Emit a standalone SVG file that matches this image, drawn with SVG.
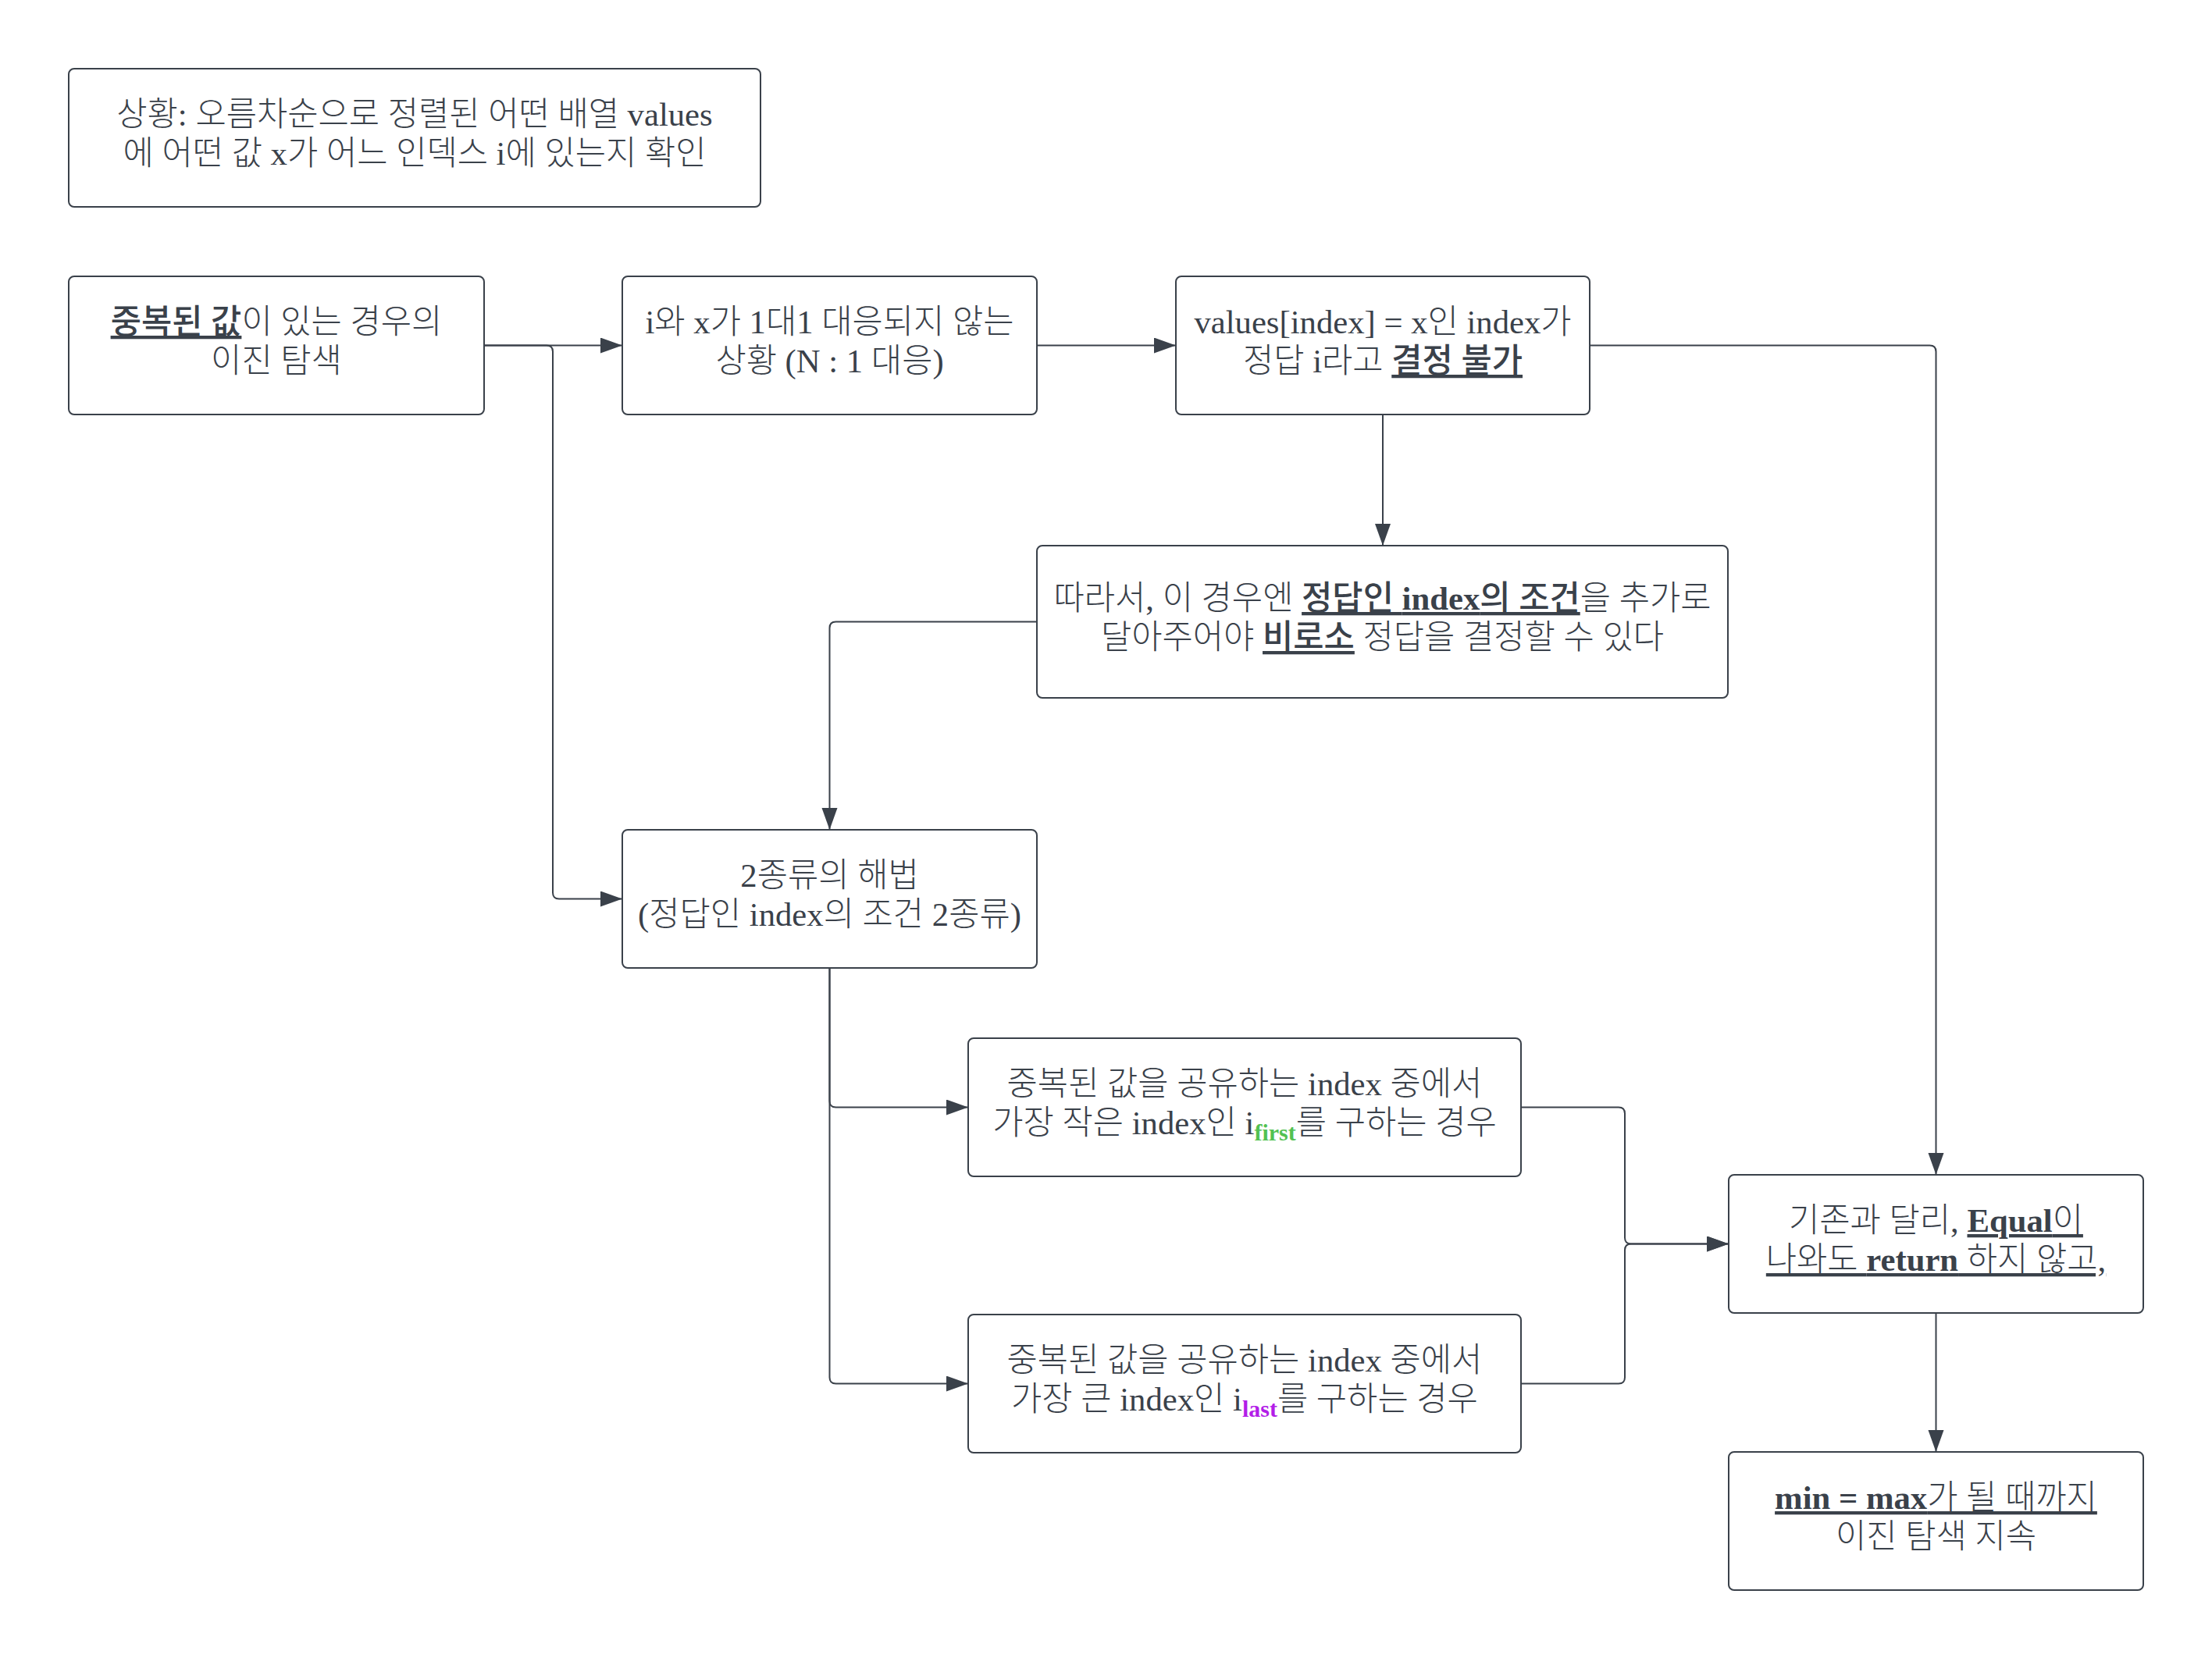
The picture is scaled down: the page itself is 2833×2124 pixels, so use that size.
<svg xmlns="http://www.w3.org/2000/svg" width="2833" height="2124" viewBox="0 0 2833 2124">
<style>
.box{fill:#ffffff;stroke:#3a414a;stroke-width:2}
.conn{fill:none;stroke:#3a414a;stroke-width:2}
text{font-family:'Liberation Serif','Noto Sans CJK KR',serif;font-size:42.7px;font-weight:300;fill:#3a414a;text-anchor:middle}
.b{font-weight:bold}
.bk{font-weight:500}
.u{text-decoration:underline;text-decoration-thickness:3.5px}
.sub{font-size:30px;font-weight:bold}
.g{fill:#52c152}
.p{fill:#b31ee8}
</style>
<defs>
<marker id="arr" markerUnits="userSpaceOnUse" markerWidth="30" markerHeight="22" refX="28" refY="10" orient="auto">
<path d="M0,0 L28,10 L0,20 Z" fill="#3a414a"/>
</marker>
</defs>
<rect width="2833" height="2124" fill="#ffffff"/>
<g id="connectors">
<path class="conn" d="M620,442.5 L797,442.5" marker-end="url(#arr)"/>
<path class="conn" d="M620,442.5 L700,442.5 Q708,442.5 708,450.5 L708,1143.5 Q708,1151.5 716,1151.5 L797,1151.5" marker-end="url(#arr)"/>
<path class="conn" d="M1328,442.5 L1506,442.5" marker-end="url(#arr)"/>
<path class="conn" d="M1771,531 L1771,699" marker-end="url(#arr)"/>
<path class="conn" d="M2036,442.5 L2471.5,442.5 Q2479.5,442.5 2479.5,450.5 L2479.5,1505" marker-end="url(#arr)"/>
<path class="conn" d="M1328,796.5 L1070.5,796.5 Q1062.5,796.5 1062.5,804.5 L1062.5,1063" marker-end="url(#arr)"/>
<path class="conn" d="M1062.5,1240 L1062.5,1410.5 Q1062.5,1418.5 1070.5,1418.5 L1240,1418.5" marker-end="url(#arr)"/>
<path class="conn" d="M1062.5,1240 L1062.5,1764.5 Q1062.5,1772.5 1070.5,1772.5 L1240,1772.5" marker-end="url(#arr)"/>
<path class="conn" d="M1948,1418.5 L2073,1418.5 Q2081,1418.5 2081,1426.5 L2081,1585.5 Q2081,1593.5 2089,1593.5 L2214,1593.5" marker-end="url(#arr)"/>
<path class="conn" d="M1948,1772.5 L2073,1772.5 Q2081,1772.5 2081,1764.5 L2081,1601.5 Q2081,1593.5 2089,1593.5 L2214,1593.5" marker-end="url(#arr)"/>
<path class="conn" d="M2479.5,1682 L2479.5,1860" marker-end="url(#arr)"/>
</g>
<g id="node-situation">
<rect class="box" x="88" y="88" width="886" height="177" rx="7"/>
<text x="531" y="161">상황: 오름차순으로 정렬된 어떤 배열 values</text>
<text x="531" y="211">에 어떤 값 x가 어느 인덱스 i에 있는지 확인</text>
</g>
<g id="node-duplicate">
<rect class="box" x="88" y="354" width="532" height="177" rx="7"/>
<text x="354" y="427"><tspan class="bk u">중복된 값</tspan>이 있는 경우의</text>
<text x="354" y="477">이진 탐색</text>
</g>
<g id="node-mapping">
<rect class="box" x="797" y="354" width="531" height="177" rx="7"/>
<text x="1062.5" y="427">i와 x가 1대1 대응되지 않는</text>
<text x="1062.5" y="477">상황 (N : 1 대응)</text>
</g>
<g id="node-undecidable">
<rect class="box" x="1506" y="354" width="530" height="177" rx="7"/>
<text x="1771" y="427">values[index] = x인 index가</text>
<text x="1771" y="477">정답 i라고 <tspan class="bk u">결정 불가</tspan></text>
</g>
<g id="node-condition">
<rect class="box" x="1328" y="699" width="885" height="195" rx="7"/>
<text x="1770.5" y="781">따라서, 이 경우엔 <tspan class="u"><tspan class="bk">정답인 </tspan><tspan class="b">index</tspan><tspan class="bk">의 조건</tspan></tspan>을 추가로</text>
<text x="1770.5" y="831">달아주어야 <tspan class="bk u">비로소</tspan> 정답을 결정할 수 있다</text>
</g>
<g id="node-two-solutions">
<rect class="box" x="797" y="1063" width="531" height="177" rx="7"/>
<text x="1062.5" y="1136">2종류의 해법</text>
<text x="1062.5" y="1186">(정답인 index의 조건 2종류)</text>
</g>
<g id="node-first">
<rect class="box" x="1240" y="1330" width="708" height="177" rx="7"/>
<text x="1594" y="1403">중복된 값을 공유하는 index 중에서</text>
<text x="1594" y="1453">가장 작은 index인 i<tspan class="sub g" dy="8">first</tspan><tspan dy="-8">를 구하는 경우</tspan></text>
</g>
<g id="node-last">
<rect class="box" x="1240" y="1684" width="708" height="177" rx="7"/>
<text x="1594" y="1757">중복된 값을 공유하는 index 중에서</text>
<text x="1594" y="1807">가장 큰 index인 i<tspan class="sub p" dy="8">last</tspan><tspan dy="-8">를 구하는 경우</tspan></text>
</g>
<g id="node-no-return">
<rect class="box" x="2214" y="1505" width="531" height="177" rx="7"/>
<text x="2479.5" y="1578">기존과 달리, <tspan class="u"><tspan class="b">Equal</tspan>이</tspan></text>
<text x="2479.5" y="1628"><tspan class="u">나와도 <tspan class="b">return</tspan> 하지 않고,</tspan></text>
</g>
<g id="node-continue">
<rect class="box" x="2214" y="1860" width="531" height="177" rx="7"/>
<text x="2479.5" y="1933"><tspan class="u"><tspan class="b">min = max</tspan>가 될 때까지</tspan></text>
<text x="2479.5" y="1983">이진 탐색 지속</text>
</g>
</svg>
